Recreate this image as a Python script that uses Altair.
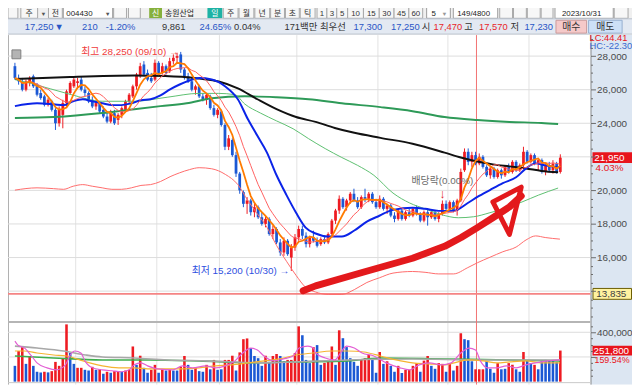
import altair as alt
import pandas as pd

# ---------------- values ----------------
opens = [27400, 26700, 26400, 26000, 26400, 26800, 26300, 25800, 25600, 25100,
         25300, 24800, 24000, 24500, 25200, 25800, 26200, 26400, 26600, 26000,
         25800, 25400, 25000, 25200, 24800, 24400, 24100, 24600, 24200, 24500,
         24800, 25300, 25600, 26200, 26800, 27500, 27000, 26700, 26600, 27600,
         27000, 27400, 27100, 27700, 27900, 28100, 27200, 26800, 26500, 26000,
         26200, 25600, 25400, 25600, 24900, 24500, 24700, 23900, 22600, 23000,
         22100, 21000, 19900, 19200, 19400, 18700, 19000, 18400, 18000, 18300,
         17400, 17700, 16900, 16300, 17000, 16000, 16600, 17200, 17700, 17300,
         16800, 17200, 17000, 16800, 17100, 16900, 17400, 18200, 18800, 19500,
         19000, 19400, 19800, 19400, 19000, 19600, 19500, 19800, 19300, 19000,
         19500, 18900, 19100, 18500, 18300, 18800, 18300, 18700, 18500, 18900,
         18600, 18200, 18700, 18400, 18700, 18300, 18600, 19200, 18900, 19300,
         18800, 19400, 21200, 22300, 21700, 22100, 21600, 22000, 21400, 20900,
         21300, 20800, 21200, 20900, 21400, 21100, 21700, 21200, 21500, 22300,
         21700, 22100, 21600, 21800, 21100, 21500, 21200, 21600, 21100]
highs = [27600, 26900, 26700, 26600, 26800, 26900, 26400, 26000, 25700, 25500,
         25400, 24900, 25000, 25400, 26000, 26500, 26700, 26700, 26800, 26200,
         25900, 25600, 25300, 25300, 25000, 24700, 24800, 24800, 24600, 25000,
         25400, 25800, 26300, 27000, 27600, 27700, 27200, 27000, 27800, 27700,
         27600, 27500, 27900, 28100, 28200, 28250, 27300, 27000, 26700, 26300,
         26300, 25800, 25800, 25700, 25100, 24900, 24800, 24000, 23300, 23100,
         22300, 21100, 20000, 19600, 19500, 19200, 19100, 18700, 18500, 18400,
         17900, 17800, 17100, 17200, 17100, 16800, 17400, 17900, 17900, 17500,
         17300, 17600, 17200, 17200, 17300, 17500, 18300, 18900, 19700, 19600,
         19500, 19900, 20100, 19600, 19700, 20100, 19900, 19900, 19500, 19700,
         19600, 19200, 19200, 18700, 18900, 18900, 18800, 18900, 19000, 19100,
         18700, 18800, 18900, 18800, 18800, 18700, 19400, 19400, 19400, 19400,
         19500, 21300, 22500, 22500, 22300, 22300, 22200, 22100, 21500, 21400,
         21400, 21300, 21300, 21500, 21600, 21800, 21800, 21600, 22600, 22400,
         22200, 22200, 21900, 21900, 21600, 21700, 21800, 21700, 22150]
lows = [26600, 26300, 25900, 25900, 26200, 26100, 25600, 25400, 25000, 25000,
        24700, 23600, 23800, 23700, 25000, 25700, 26100, 26100, 25900, 25600,
        25200, 24900, 24800, 24600, 24300, 24000, 24000, 23900, 23900, 24300,
        24700, 25200, 25500, 26000, 26700, 26800, 26500, 26400, 26500, 26900,
        26900, 26900, 27000, 27500, 27600, 27000, 26600, 26400, 25900, 25700,
        25500, 25300, 25100, 24800, 24400, 24300, 23800, 22400, 22400, 22000,
        20800, 19800, 19000, 18600, 18500, 18400, 18300, 17900, 17800, 17300,
        17100, 16800, 16100, 16100, 16100, 15200, 16400, 17000, 17100, 16600,
        16600, 16900, 16600, 16700, 16800, 16800, 17300, 18000, 18600, 18900,
        18800, 19200, 19300, 18900, 18900, 19300, 19300, 19200, 18900, 18900,
        18800, 18600, 18400, 18100, 18200, 18200, 18200, 18400, 18400, 18500,
        18100, 18100, 17900, 18300, 18200, 18100, 18500, 18800, 18800, 18700,
        18500, 19300, 21100, 21500, 21400, 21500, 21500, 21300, 20800, 20700,
        20700, 20700, 20700, 20800, 21000, 21000, 21100, 21100, 21400, 21600,
        21600, 21500, 21200, 21000, 20900, 21100, 21000, 21000, 21000]
closes = [26700, 26500, 26000, 26500, 26700, 26200, 25700, 25500, 25100, 25400,
          24800, 24000, 24800, 25200, 25900, 26400, 26600, 26500, 26000, 25800,
          25300, 25000, 25200, 24700, 24400, 24100, 24700, 24000, 24500, 24900,
          25300, 25700, 26200, 26900, 27400, 26900, 26600, 26500, 27600, 27000,
          27400, 27000, 27700, 27900, 28000, 27200, 26800, 26500, 26000, 26200,
          25600, 25400, 25700, 24900, 24500, 24800, 23900, 22600, 23100, 22100,
          21000, 20000, 19200, 19400, 18700, 19000, 18400, 18000, 18300, 17400,
          17700, 16900, 16300, 17000, 16200, 16600, 17200, 17700, 17300, 16800,
          17200, 17000, 16700, 17100, 16900, 17400, 18200, 18800, 19500, 19000,
          19400, 19800, 19400, 19000, 19600, 19500, 19800, 19300, 19000, 19500,
          18900, 19100, 18500, 18300, 18800, 18300, 18700, 18500, 18900, 18600,
          18200, 18700, 18400, 18700, 18300, 18600, 19200, 18900, 19300, 18800,
          19400, 21100, 22300, 21700, 22100, 21600, 22000, 21400, 20900, 21300,
          20800, 21200, 20900, 21400, 21100, 21700, 21200, 21500, 22300, 21700,
          22100, 21600, 21800, 21100, 21500, 21200, 21600, 21100, 21950]
volumes = [128000, 248000, 280000, 144000, 208000, 128000, 80000, 75000, 80000, 75000,
           85000, 160000, 128000, 190000, 464000, 232000, 144000, 112000, 112000, 96000,
           90000, 120000, 96000, 100000, 64000, 80000, 72000, 85000, 85000, 80000,
           90000, 96000, 285000, 136000, 210000, 112000, 72000, 96000, 136000, 72000,
           100000, 90000, 96000, 90000, 90000, 120000, 208000, 136000, 96000, 112000,
           85000, 80000, 136000, 100000, 176000, 96000, 100000, 176000, 176000, 210000,
           90000, 237000, 344000, 350000, 272000, 208000, 190000, 128000, 210000, 160000,
           208000, 224000, 208000, 165000, 176000, 176000, 232000, 448000, 376000, 176000,
           150000, 280000, 296000, 136000, 152000, 176000, 285000, 136000, 416000, 352000,
           280000, 190000, 160000, 128000, 176000, 190000, 216000, 176000, 72000, 240000,
           144000, 165000, 128000, 80000, 128000, 70000, 96000, 96000, 128000, 150000,
           80000, 170000, 208000, 128000, 104000, 150000, 144000, 80000, 150000, 90000,
           128000, 392000, 344000, 336000, 165000, 100000, 100000, 100000, 165000, 104000,
           72000, 150000, 100000, 104000, 150000, 136000, 100000, 80000, 240000, 176000,
           150000, 136000, 100000, 170000, 176000, 170000, 170000, 158000, 251800]
volume_dir = list("BRRBRBBBRB" "RRRRRBBRRB" "BRBRBRBRRB" "RRRBRBBRRB" "RBRBBRRBBR"
                  "BBRBRBBRRR" "BRRRBBBBRB" "RRBBRRRRBB" "BRBBRRRBRB" "BBBBRRRBBR"
                  "BRBBRBRRRR" "BRRBBRRBRB" "RRBBBRRRBB" "BRBBRRBBRB" "BRBBBBBBR")

# moving-average lines (candle index, value)
ma20_i = [0, 6, 10.5, 13.2, 15.8, 18.4, 21, 23.7, 26.3, 28.9, 31.6, 34.2, 36.8, 39.5, 42.1, 44.7,
          47.4, 50, 53.4, 57.1, 60.5, 63.2, 65.8, 68.4, 71, 73.7, 76.3, 78.9, 81.6, 85, 88.7, 92.1,
          95.5, 98.9, 102.6, 107.9, 111.3, 115, 119, 122.9, 125.5, 128.9, 132.4, 136, 138.7, 141.3,
          143.9, 147.9]
ma20_v = [25020, 25190, 25130, 25080, 25310, 25430, 25310, 25190, 25080, 25080, 25190, 25370, 25430,
          25660, 26020, 26310, 26550, 26690, 26610, 26190, 25430, 24250, 23250, 22250, 20900, 19720,
          18670, 17780, 17430, 17250, 17250, 17610, 18140, 18490, 18840, 18960, 18900, 18780, 18780,
          19250, 19610, 20020, 20430, 20780, 21310, 21610, 21490, 21370]
ma60_i = [0, 4.5, 15, 23.7, 32.4, 41.3, 50, 55.3, 59.7, 62.4, 66.6, 71, 75.5, 79.7, 84.2, 88.7, 93,
          97.4, 102.6, 107.1, 111.3, 115.8, 120.3, 124.5, 128.9, 133.4, 137.6, 142.1, 147.4]
ma60_v = [26600, 26370, 25720, 25310, 25310, 25550, 25780, 25780, 25700, 25140, 24610, 24140, 23670,
          23080, 22490, 21960, 21490, 20900, 19840, 19250, 18900, 18550, 18370, 18430, 18670, 18960,
          19310, 19720, 20140]
ma120_i = [0, 15, 32.4, 40.8, 46, 50, 55.3, 60.5, 65.8, 71, 76.3, 81.6, 86.8, 92.1, 99.2, 107.9,
           116.6, 121, 125.5, 129.7, 134.2, 138.7, 142.9, 147.4]
ma120_v = [26640, 26760, 26840, 26810, 26760, 26660, 26490, 26080, 25430, 24840, 24370, 24080, 23720,
           23430, 23130, 22780, 22250, 21960, 21720, 21550, 21430, 21310, 21160, 21080]
ma240_i = [0, 10.5, 23.7, 32.4, 39.5, 46.6, 53.4, 62.4, 71, 79.7, 88.7, 99.2, 107.9, 116.6, 125.5,
           134.2, 142.9, 147.4]
ma240_v = [24310, 24370, 24610, 24840, 25020, 25190, 25490, 25610, 25550, 25430, 25190, 24960, 24720,
           24370, 24190, 24080, 24020, 23960]

vma5_i = [0, 0.8, 2.6, 4.5, 6, 8.7, 11.3, 13.7, 15, 16.3, 17.9, 19, 21, 23.7, 26.3, 29, 31, 32.4,
          34.2, 36, 38.7, 42.9, 45.5, 48.2, 51.8, 54.5, 57.1, 59.7, 61.8, 64, 65.8, 67.6, 70.3, 72.9,
          75.5, 77.1, 79.5, 81, 81.6, 84.2, 86.8, 88.7, 90, 92.1, 94.2, 97.4, 100.8, 104.5, 107.1,
          109.7, 112.4, 115.8, 118.4, 121, 123.2, 125, 126.3, 128.2, 130.8, 133.4, 136, 138.7,
          141.3, 144.7, 147.9]
vma5_v = [328000, 296000, 272000, 208000, 152000, 112000, 96000, 136000, 216000, 248000, 232000,
          168000, 112000, 96000, 88000, 80000, 96000, 136000, 152000, 128000, 104000, 96000, 128000,
          112000, 128000, 112000, 128000, 168000, 232000, 272000, 256000, 208000, 168000, 184000,
          208000, 272000, 288000, 272000, 232000, 192000, 176000, 248000, 288000, 272000, 232000,
          208000, 152000, 112000, 96000, 136000, 152000, 136000, 152000, 232000, 272000, 256000,
          168000, 112000, 112000, 128000, 112000, 136000, 152000, 168000, 176000]
vma20_i = [0, 2.6, 6, 10.5, 14, 17.6, 20.3, 23.7, 28.2, 32.4, 36, 41.3, 45.5, 50, 54.5, 58.7, 63.2,
           67.6, 71.8, 76.3, 80.8, 86, 90.3, 94.7, 99.2, 103.4, 107.9, 112.4, 116.6, 119.2, 122.9,
           127.1, 130.8, 134.2, 138.7, 142.9, 147.9]
vma20_v = [248000, 248000, 232000, 216000, 208000, 176000, 152000, 128000, 112000, 112000, 104000,
           104000, 104000, 112000, 128000, 136000, 152000, 168000, 184000, 216000, 232000, 248000,
           248000, 240000, 208000, 176000, 152000, 144000, 136000, 152000, 176000, 168000, 152000,
           160000, 168000, 152000, 152000]
vma60_i = [0, 6, 13.2, 19.2, 23.7, 32.4, 41.3, 51.8, 67.6, 76.3, 90.3, 107.9, 125.5, 147.9]
vma60_v = [288000, 272000, 248000, 216000, 200000, 192000, 176000, 168000, 152000, 160000, 176000,
           184000, 176000, 176000]
vma120_i = [0, 10.5, 23.7, 36.8, 50, 63.2, 76.3, 90.3, 99.2, 116.6, 134.2, 147.9]
vma120_v = [208000, 192000, 176000, 176000, 168000, 152000, 160000, 168000, 192000, 184000, 176000,
            168000]

month_breaks = [16.5, 38.5, 55.5, 76.5, 98.5, 117.5, 139.5]
price_grid = [14000, 16000, 18000, 20000, 22000, 24000, 26000, 28000]
volume_grid = [200000, 400000]
level_price = [13835]
cursor_index = [125.25]
peak_date, low_date = "09/10", "10/30"
dividend_index = 116

# hand-drawn arrow on the chart (candle index, price)
arrow_i = [78.2, 81.6, 94.7, 107.9, 116.6, 121.1, 125.5, 129.7, 134.2, 137.4]
arrow_p = [14019, 14313, 15137, 15960, 16666, 17195, 17783, 18372, 19019, 19666]
head_i = [129.7, 137.4, 134.2, 129.7]
head_p = [19314, 20196, 17372, 19314]

# ---------------- styling ----------------
UI = "'Liberation Sans', 'Noto Sans CJK KR', sans-serif"
NARROW = "'Liberation Sans Narrow', 'Liberation Sans', 'Noto Sans CJK KR', sans-serif"
RED = "#ee1b22"
BLUE = "#1b58d4"

XS = alt.Scale(domain=[0, 148], range=[2, 564.4], nice=False, zero=False)
PS = alt.Scale(domain=[12253, 29253], range=[314, 25], nice=False, zero=False)
VS = alt.Scale(domain=[0, 488000], range=[376, 315], nice=False, zero=False)
DIR = alt.Scale(domain=["R", "B"], range=[RED, BLUE])


def X(f="i"):
    return alt.X(f"{f}:Q", scale=XS, axis=None)


def PY(f, axis=None):
    return alt.Y(f"{f}:Q", scale=PS, axis=axis)


def VY(f, axis=None):
    return alt.Y(f"{f}:Q", scale=VS, axis=axis)


one = pd.DataFrame({"k": [0]})


def box(x1, x2, y1, y2, fill, stroke=None):
    kw = {"fill": fill, "opacity": 1}
    if stroke:
        kw.update(stroke=stroke, strokeWidth=1)
    return alt.Chart(one).mark_rect(**kw).encode(
        x=alt.value(x1 - 8), x2=alt.value(x2 - 8), y=alt.value(y1 - 8), y2=alt.value(y2 - 8))


def label(s, x, y, color="#222222", size=11, align="left", font=UI):
    return alt.Chart(one).mark_text(text=s, align=align, baseline="middle", color=color,
                                    fontSize=size, font=font).encode(
        x=alt.value(x - 8), y=alt.value(y - 8))


def hline(x1, x2, y, color, sw=1):
    return alt.Chart(one).mark_rule(color=color, strokeWidth=sw).encode(
        x=alt.value(x1 - 8), x2=alt.value(x2 - 8), y=alt.value(y - 8))


def vline(x, y1, y2, color, sw=1):
    return alt.Chart(one).mark_rule(color=color, strokeWidth=sw).encode(
        x=alt.value(x - 8), y=alt.value(y1 - 8), y2=alt.value(y2 - 8))


df = pd.DataFrame({"i": list(range(len(closes))), "open": opens, "high": highs, "low": lows,
                   "close": closes, "vol": volumes, "vdir": volume_dir})
df["dir"] = ["R" if c >= o else "B" for o, c in zip(opens, closes)]
base = alt.Chart(df)

L = []
# ---------- header (toolbar) ----------
TY = 12  # row-1 text centre (the row is only partly inside the page area)
L.append(box(8, 640, 0, 16.5, "#f0f0f0"))
for x1, x2 in [(8, 18), (21, 38), (49, 63), (115, 128), (130, 142), (226, 241), (242, 257),
               (258, 273), (274, 288), (289, 303), (304, 319), (321, 331), (331, 341), (341, 352),
               (352, 368), (368, 384), (384, 399), (399, 414), (414, 428), (506, 519), (520, 533),
               (534, 547), (548, 560), (622, 636)]:
    L.append(box(x1, x2, 1, 16, "#f7f7f7", "#a8a8a8"))
L.append(box(64, 114, 1, 16, "#ffffff", "#9a9a9a"))
L.append(box(432, 456, 1, 16, "#ffffff", "#9a9a9a"))
L.append(box(459, 504, 1, 16, "#ffffff", "#9a9a9a"))
L.append(box(562, 621, 1, 16, "#ffffff", "#9a9a9a"))
L.append(box(151, 164, 1, 16, "#86b03c"))
L.append(box(210, 225, 1, 16, "#1eb2a4"))
for s, x in [("주", 29.5), ("전", 56), ("주", 233.5), ("월", 249.5), ("년", 265.5), ("분", 281),
             ("초", 296), ("틱", 311.5), ("1", 326), ("3", 336), ("5", 346.5), ("10", 360),
             ("15", 376), ("30", 391.5), ("45", 406.5), ("60", 421)]:
    L.append(label(s, x, TY, "#333333", 8, "center"))
L.append(label("▼", 44, TY, "#555555", 6, "center"))
L.append(label("▼", 109, TY, "#555555", 6, "center"))
L.append(label("▼", 450, TY, "#999999", 6, "center"))
L.append(label("004430", 67, TY, "#222222", 8))
L.append(label("신", 157.5, TY, "#ffffff", 8, "center"))
L.append(label("송원산업", 167, TY, "#222222", 8))
L.append(label("일", 217.5, TY, "#ffffff", 8, "center"))
L.append(label("5", 437, TY, "#222222", 8))
L.append(label("149/4800", 463, TY, "#222222", 8))
L.append(label("2023/10/31", 569, TY, "#222222", 8))

L.append(box(8, 640, 16.5, 32, "#e3e9f2"))
L.append(hline(8, 640, 16.5, "#b9c0ca"))
L.append(hline(8, 640, 32, "#b9c0ca"))
for s, x, c in [("17,250", 25, "#2a56c6"), ("▼", 55, "#2a56c6"), ("210", 83, "#2a56c6"),
                ("-1.20%", 107, "#2a56c6"), ("9,861", 164, "#333333"), ("24.65%", 202, "#2a56c6"),
                ("0.04%", 237, "#333333"), ("171백만", 288, "#333333"), ("최우선", 324, "#333333"),
                ("17,300", 358, "#2a56c6"), ("17,250", 396, "#2a56c6"), ("시", 427, "#333333"),
                ("17,470", 439, "#e8262a"), ("고", 470, "#333333"), ("17,570", 485, "#e8262a"),
                ("저", 517, "#333333"), ("17,230", 531, "#2a56c6")]:
    L.append(label(s, x, 24.5, c, 9.5))
L.append(box(563, 594, 18, 31, "#f5c9c9", "#c99a9a"))
L.append(box(596, 630, 18, 31, "#cde0f6", "#97b0d0"))
L.append(label("매수", 578.5, 24.5, "#333333", 10, "center"))
L.append(label("매도", 613, 24.5, "#333333", 10, "center"))

# ---------- grids and frame ----------
L.append(box(598, 640, 33, 387, "#dce6f2"))
L.append(vline(598.5, 33, 387, "#8c8c8c"))
L.append(vline(8.5, 33, 387, "#b0b0b0"))
L.append(alt.Chart(pd.DataFrame({"b": month_breaks})).mark_rule(color="#e3e3e3").encode(
    x=X("b"), y=alt.value(33 - 8), y2=alt.value(387 - 8)))
L.append(alt.Chart(pd.DataFrame({"p": price_grid})).mark_rule(color="#dcdcdc").encode(
    y=PY("p"), x=alt.value(0), x2=alt.value(590)))
L.append(alt.Chart(pd.DataFrame({"v": volume_grid})).mark_rule(color="#dcdcdc").encode(
    y=VY("v"), x=alt.value(0), x2=alt.value(590)))
L.append(hline(8, 598, 323.5, "#b5b5b5", 2))
L.append(hline(8, 598, 385, "#c8c8c8", 1))
L.append(alt.Chart(pd.DataFrame({"i": cursor_index})).mark_rule(color="#f27272").encode(
    x=X(), y=alt.value(33 - 8), y2=alt.value(387 - 8)))
L.append(alt.Chart(pd.DataFrame({"p": level_price})).mark_rule(color="#f58484", strokeWidth=2).encode(
    y=PY("p"), x=alt.value(0), x2=alt.value(590)))

# ---------- axes ----------
price_axis = alt.Axis(
    orient="right", offset=-42, values=list(range(12500, 29001, 500)), grid=False, zindex=1,
    domain=False, tickColor="#6a6a6a",
    tickSize={"condition": {"test": "datum.value % 2000 === 0", "value": 5}, "value": 2},
    labelExpr="(datum.value % 2000 === 0 && datum.value !== 22000 && datum.value !== 14000) ? format(datum.value, ',') : ''",
    labelFont=NARROW, labelFontSize=10, labelColor="#4a4a4a", labelPadding=1,
    labelOverlap=False, labelFlush=False, title=None)
vol_axis = alt.Axis(
    orient="right", offset=-42, values=list(range(50000, 450001, 50000)), grid=False, zindex=1,
    domain=False, tickColor="#6a6a6a",
    tickSize={"condition": {"test": "datum.value % 200000 === 0", "value": 5}, "value": 2},
    labelExpr="datum.value === 400000 ? format(datum.value, ',') : ''",
    labelFont=NARROW, labelFontSize=10, labelColor="#4a4a4a", labelPadding=1,
    labelOverlap=False, labelFlush=False, title=None)

# ---------- candles ----------
L.append(base.mark_rule(strokeWidth=1, opacity=1).encode(
    x=X(), y=PY("low", price_axis), y2=alt.Y2("high"),
    color=alt.Color("dir:N", scale=DIR, legend=None)))
L.append(base.mark_bar(size=2.8, opacity=1).encode(
    x=X(), y=PY("open"), y2=alt.Y2("close"),
    color=alt.Color("dir:N", scale=DIR, legend=None)))

# ---------- volume ----------
L.append(base.mark_bar(size=2.6, opacity=1).encode(
    x=X(), y=VY("vol", vol_axis), color=alt.Color("vdir:N", scale=DIR, legend=None)))


def sparse(idx, vals, color, width, scale):
    d = pd.DataFrame({"i": idx, "v": vals})
    return alt.Chart(d).mark_line(color=color, strokeWidth=width, interpolate="monotone").encode(
        x=X(), y=alt.Y("v:Q", scale=scale, axis=None))


L.append(sparse(vma120_i, vma120_v, "#3dad4c", 1.6, VS))
L.append(sparse(vma60_i, vma60_v, "#a8a8a8", 1.6, VS))
L.append(sparse(vma20_i, vma20_v, "#f5b431", 1.2, VS))
L.append(sparse(vma5_i, vma5_v, "#e35fd4", 1.2, VS))

# ---------- price moving averages ----------
L.append(sparse(ma240_i, ma240_v, "#2e9a58", 2, PS))
L.append(sparse(ma120_i, ma120_v, "#111111", 2, PS))
L.append(sparse(ma60_i, ma60_v, "#5cbf70", 1, PS))
ma20_df = pd.DataFrame({"i": ma20_i, "v": ma20_v})
L.append(alt.Chart(ma20_df).transform_calculate(e="datum.v * 0.8").mark_line(
    color="#ff6b6b", strokeWidth=1, interpolate="monotone").encode(x=X(), y=PY("e")))
L.append(sparse(ma20_i, ma20_v, "#0b24e8", 2, PS))
L.append(base.transform_window(m="mean(close)", frame=[-9, 0], sort=[alt.SortField("i")]).mark_line(
    color="#ff6060", strokeWidth=1).encode(x=X(), y=PY("m")))
L.append(base.transform_window(m="mean(close)", frame=[-4, 0], sort=[alt.SortField("i")]).mark_line(
    color="#ff7b00", strokeWidth=1.8).encode(x=X(), y=PY("m")))

# ---------- hand-drawn arrow ----------
L.append(alt.Chart(pd.DataFrame({"i": arrow_i, "p": arrow_p, "k": list(range(len(arrow_i)))}))
         .mark_line(color="#e3191c", strokeWidth=7, strokeCap="round", strokeJoin="round")
         .encode(x=X(), y=PY("p"), order="k:Q"))
L.append(alt.Chart(pd.DataFrame({"i": head_i, "p": head_p, "k": list(range(len(head_i)))}))
         .mark_line(color="#e3191c", strokeWidth=5, strokeCap="round", strokeJoin="round")
         .encode(x=X(), y=PY("p"), order="k:Q"))

# ---------- annotations ----------
peak_i = highs.index(max(highs))
low_i = lows.index(min(lows))
L.append(alt.Chart(pd.DataFrame({"i": [peak_i], "p": [max(highs)],
                                 "t": [f"최고 {max(highs):,} ({peak_date}) →"]}))
         .mark_text(align="right", baseline="middle", dx=-2, color="#f03c3c", fontSize=10, font=NARROW)
         .encode(x=X(), y=PY("p"), text="t:N"))
L.append(alt.Chart(pd.DataFrame({"i": [low_i], "p": [min(lows)],
                                 "t": [f"최저 {min(lows):,} ({low_date}) →"]}))
         .mark_text(align="right", baseline="middle", dx=-2, color="#2f4fe0", fontSize=10, font=NARROW)
         .encode(x=X(), y=PY("p"), text="t:N"))
div_df = pd.DataFrame({"i": [dividend_index], "p": [highs[dividend_index]],
                       "t": ["배당락(0.00%)"], "a": ["↓"]})
L.append(alt.Chart(div_df).mark_text(align="center", baseline="middle", dy=-20, color="#6b6b6b",
                                     fontSize=10, font=NARROW).encode(x=X(), y=PY("p"), text="t:N"))
L.append(alt.Chart(div_df).mark_text(align="center", baseline="middle", dy=-7, color="#e02020",
                                     fontSize=13, fontWeight="bold").encode(x=X(), y=PY("p"), text="a:N"))
L.append(box(12, 21, 48, 57, "#b4b4b4", "#808080"))

# ---------- right-side price / volume tags ----------
last = pd.DataFrame({"p": [closes[-1]], "t": [f"{closes[-1]:,}"], "r": ["4.03%"]})
L.append(alt.Chart(last).mark_tick(orient="horizontal", thickness=11, size=40, fill="#e8141c",
                                   color="#e8141c", opacity=1).encode(x=alt.value(612), y=PY("p")))
L.append(alt.Chart(last).mark_text(align="center", baseline="middle", color="#ffffff", fontSize=10,
                                   font=NARROW).encode(x=alt.value(609), y=PY("p"), text="t:N"))
L.append(alt.Chart(last).mark_text(align="left", baseline="middle", dy=11, color="#e8141c", fontSize=10,
                                   font=NARROW).encode(x=alt.value(595), y=PY("p"), text="r:N"))
lvl = pd.DataFrame({"p": level_price, "t": [f"{level_price[0]:,}"]})
L.append(alt.Chart(lvl).mark_tick(orient="horizontal", thickness=11, size=39, fill="#fff3a0",
                                  stroke="#6b5c00", strokeWidth=1, opacity=1).encode(x=alt.value(612), y=PY("p")))
L.append(alt.Chart(lvl).mark_text(align="center", baseline="middle", color="#404040", fontSize=10,
                                  font=NARROW).encode(x=alt.value(611), y=PY("p"), text="t:N"))
lastv = pd.DataFrame({"v": [volumes[-1]], "t": [f"{volumes[-1]:,}"], "r": ["159.54%"]})
L.append(alt.Chart(lastv).mark_tick(orient="horizontal", thickness=10, size=40, fill="#e8141c",
                                    color="#e8141c", opacity=1).encode(x=alt.value(612), y=VY("v")))
L.append(alt.Chart(lastv).mark_text(align="center", baseline="middle", color="#ffffff", fontSize=10,
                                    font=NARROW).encode(x=alt.value(611), y=VY("v"), text="t:N"))
L.append(alt.Chart(lastv).mark_text(align="left", baseline="middle", dy=10, color="#e8141c", fontSize=9,
                                    font=NARROW).encode(x=alt.value(594), y=VY("v"), text="r:N"))
L.append(label("LC:44.41", 597, 35.5, "#e8141c", 9.5, "left", NARROW))
L.append(label("HC:-22.30", 597, 44.5, "#3a6ad0", 9.5, "left", NARROW))

chart = (alt.layer(*L)
         .resolve_scale(y="independent")
         .properties(width=632, height=379, padding=0,
                     autosize=alt.AutoSizeParams(type="none"))
         .configure(font=UI)
         .configure_view(strokeWidth=0))

chart.save("out.html", embed_options={"renderer": "svg", "actions": False})
